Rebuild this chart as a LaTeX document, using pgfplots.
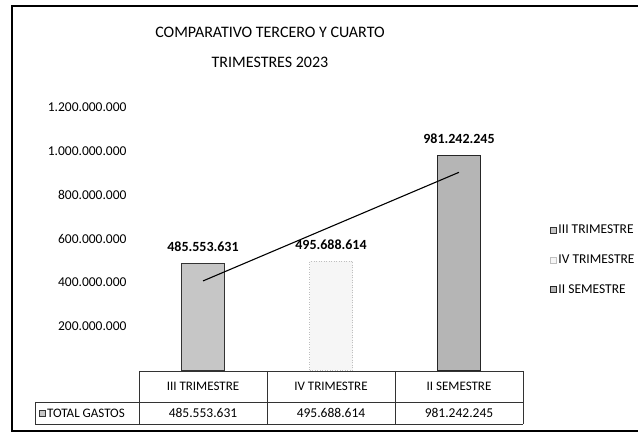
\documentclass[border=0pt]{standalone}
\usepackage{pgfplots}
\pgfplotsset{compat=1.18}
\usepackage{fontspec}
\setmainfont{Carlito}
\begin{document}
\begin{tikzpicture}[x=1pt,y=1pt]
\path[use as bounding box] (0,0) rectangle (638,434);
% outer frame
\draw[black, line width=1.2pt] (638,428) -- (12,428) -- (12,3) -- (638,3);
% title
\node[font=\fontsize{16}{19}\selectfont, align=center] at (270,402) {COMPARATIVO TERCERO Y CUARTO};
\node[font=\fontsize{16}{19}\selectfont, align=center] at (270,372) {TRIMESTRES 2023};
\begin{axis}[
  at={(139pt,64pt)}, anchor=south west,
  scale only axis, width=384pt, height=263pt,
  xmin=0.5, xmax=3.5, ymin=0, ymax=1.2e9,
  axis line style={draw=none},
  major tick length=0pt,
  xtick=\empty,
  ytick={2e8,4e8,6e8,8e8,1e9,1.2e9},
  scaled y ticks=false,
  yticklabel style={font=\fontsize{13.5}{15}\selectfont, /pgf/number format/.cd, fixed, precision=0, 1000 sep={.}, assume math mode=true},
  yticklabel shift=9pt,
  clip=false,
  legend image code/.code={\draw[#1, line width=0.4pt, solid] (0pt,-3pt) rectangle (6pt,3pt);},
  legend style={draw=none, fill=none, at={(1.07,0.56)}, anchor=north west,
    font=\fontsize{13.5}{15}\selectfont, row sep=15.5pt, inner sep=0pt,
    /tikz/every even column/.append style={column sep=1pt}},
  legend cell align=left,
  nodes near coords style={font=\bfseries\fontsize{14}{16}\selectfont, anchor=south, yshift=8pt},
]
\addplot[ybar, bar width=43pt, bar shift=0pt, fill=gray!45, draw=black!80, line width=0.8pt,
  point meta=explicit symbolic, nodes near coords]
  coordinates {(1,485553631) [485.553.631]};
\addlegendentry{III TRIMESTRE}
\addplot[ybar, bar width=43pt, bar shift=0pt, fill=gray!7, draw=black!25, line width=0.5pt, dotted,
  point meta=explicit symbolic, nodes near coords]
  coordinates {(2,495688614) [495.688.614]};
\addlegendentry{IV TRIMESTRE}
\addplot[ybar, bar width=43pt, bar shift=0pt, fill=gray!58, draw=black!85, line width=0.8pt,
  point meta=explicit symbolic, nodes near coords]
  coordinates {(3,981242245) [981.242.245]};
\addlegendentry{II SEMESTRE}
\addplot[black, line width=1.1pt, forget plot] coordinates {(1,406317190) (3,902005804)};
\end{axis}
% data table
\draw[black!80, line width=0.6pt] (139,63) -- (523,63);
\draw[black!80, line width=0.6pt] (35,32) -- (523,32);
\draw[black!80, line width=0.6pt] (35,10) -- (523,10);
\draw[black!80, line width=0.6pt] (35,32) -- (35,10);
\foreach \xx in {139,267,395,523} {\draw[black!80, line width=0.6pt] (\xx,63) -- (\xx,10);}
\node[font=\fontsize{13}{15}\selectfont] at (203,48) {III TRIMESTRE};
\node[font=\fontsize{13}{15}\selectfont] at (331,48) {IV TRIMESTRE};
\node[font=\fontsize{13}{15}\selectfont] at (459,48) {II SEMESTRE};
\node[font=\fontsize{13.5}{15}\selectfont] at (203,21) {485.553.631};
\node[font=\fontsize{13.5}{15}\selectfont] at (331,21) {495.688.614};
\node[font=\fontsize{13.5}{15}\selectfont] at (459,21) {981.242.245};
\draw[fill=gray!45, draw=black!80, line width=0.4pt] (39,18) rectangle (45,24);
\node[font=\fontsize{13}{15}\selectfont, anchor=west, inner sep=1pt] at (46,21) {TOTAL GASTOS};
\end{tikzpicture}
\end{document}
